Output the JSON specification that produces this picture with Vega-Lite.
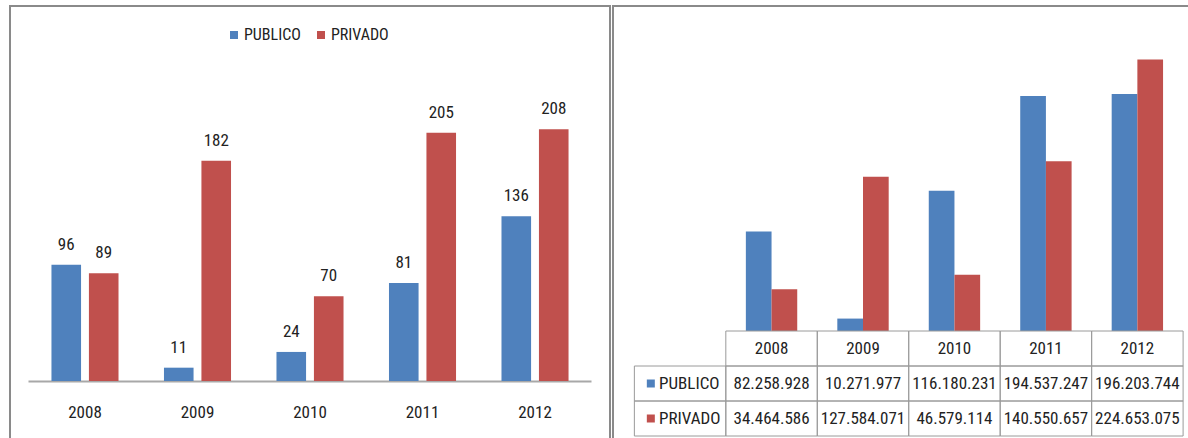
{
  "$schema": "https://vega.github.io/schema/vega-lite/v6.json",
  "padding": {"left": 9, "top": 5, "right": 0, "bottom": 0},
  "spacing": 1,
  "background": "white",
  "resolve": {"scale": {"x": "independent", "xOffset": "independent", "y": "independent", "color": "independent"}},
  "config": {
    "view": {"stroke": "#8a8a8a", "strokeWidth": 2},
    "font": "Liberation Sans Narrow, Arial Narrow, Roboto Condensed, sans-serif",
    "locale": {"number": {"decimal": ",", "thousands": ".", "grouping": [3], "currency": ["R$", ""]}}
  },
  "datasets": {
    "counts": [
      {"year": "2008", "series": "PUBLICO", "n": 96},
      {"year": "2008", "series": "PRIVADO", "n": 89},
      {"year": "2009", "series": "PUBLICO", "n": 11},
      {"year": "2009", "series": "PRIVADO", "n": 182},
      {"year": "2010", "series": "PUBLICO", "n": 24},
      {"year": "2010", "series": "PRIVADO", "n": 70},
      {"year": "2011", "series": "PUBLICO", "n": 81},
      {"year": "2011", "series": "PRIVADO", "n": 205},
      {"year": "2012", "series": "PUBLICO", "n": 136},
      {"year": "2012", "series": "PRIVADO", "n": 208}
    ],
    "values": [
      {"year": "2008", "series": "PUBLICO", "value": 82258928},
      {"year": "2008", "series": "PRIVADO", "value": 34464586},
      {"year": "2009", "series": "PUBLICO", "value": 10271977},
      {"year": "2009", "series": "PRIVADO", "value": 127584071},
      {"year": "2010", "series": "PUBLICO", "value": 116180231},
      {"year": "2010", "series": "PRIVADO", "value": 46579114},
      {"year": "2011", "series": "PUBLICO", "value": 194537247},
      {"year": "2011", "series": "PRIVADO", "value": 140550657},
      {"year": "2012", "series": "PUBLICO", "value": 196203744},
      {"year": "2012", "series": "PRIVADO", "value": 224653075}
    ]
  },
  "hconcat": [
    {
      "width": 600,
      "height": 433,
      "data": {"name": "counts"},
      "encoding": {
        "x": {
          "field": "year", "type": "nominal",
          "scale": {"paddingInner": 0.404, "paddingOuter": 0.3685},
          "axis": {
            "title": null, "orient": "bottom", "offset": -58, "labelAngle": 0,
            "ticks": false, "labelPadding": 31, "labelBaseline": "middle",
            "labelFontSize": 17, "labelColor": "#222",
            "domainColor": "#a8a8a8", "domainWidth": 2, "domainDash": [0, 18, 563, 100]
          }
        },
        "xOffset": {"field": "series", "type": "nominal", "scale": {"domain": ["PUBLICO", "PRIVADO"], "paddingInner": 0.21, "paddingOuter": 0}},
        "y": {"field": "n", "type": "quantitative", "scale": {"domain": [-47.9, 309.7], "nice": false, "zero": false}, "axis": null}
      },
      "layer": [
        {
          "mark": {"type": "bar"},
          "encoding": {
            "y2": {"datum": 0},
            "color": {
              "field": "series", "type": "nominal",
              "scale": {"domain": ["PUBLICO", "PRIVADO"], "range": ["#4F81BD", "#C0504D"]},
              "legend": {
                "title": null, "orient": "none", "legendX": 216, "legendY": 21,
                "direction": "horizontal", "symbolType": "square", "symbolSize": 64,
                "symbolStrokeWidth": 0, "labelFontSize": 16, "labelColor": "#222",
                "labelOffset": 2, "columnPadding": 12
              }
            }
          }
        },
        {
          "mark": {"type": "text", "dy": -15, "baseline": "alphabetic", "fontSize": 17, "color": "#222"},
          "encoding": {"text": {"field": "n", "type": "quantitative"}}
        }
      ]
    },
    {
      "width": 578,
      "height": 433,
      "data": {"name": "values"},
      "resolve": {"scale": {"y": "independent"}},
      "layer": [
        {
          "mark": {"type": "bar"},
          "encoding": {
            "x": {
              "field": "year", "type": "nominal",
              "scale": {"domain": ["label", "2008", "2009", "2010", "2011", "2012"], "paddingInner": 0, "paddingOuter": 0.16, "align": 0.73},
              "axis": null
            },
            "xOffset": {"field": "series", "type": "nominal", "scale": {"domain": ["PUBLICO", "PRIVADO"], "paddingInner": 0, "paddingOuter": 0.78}},
            "y": {"field": "value", "type": "quantitative", "scale": {"domain": [-89400000, 269000000], "nice": false, "zero": false}, "axis": null},
            "y2": {"datum": 0},
            "color": {
              "field": "series", "type": "nominal",
              "scale": {"domain": ["PUBLICO", "PRIVADO"], "range": ["#4F81BD", "#C0504D"]},
              "legend": null
            }
          }
        },
        {
          "layer": [
            {
              "transform": [{"aggregate": [{"op": "count", "as": "k"}], "groupby": ["year"]}],
              "mark": {"type": "rect", "filled": false, "color": "#9a9a9a", "strokeWidth": 1},
              "encoding": {
                "x": {"field": "year", "type": "nominal", "axis": null},
                "y": {"datum": "header", "type": "nominal", "scale": {"domain": ["header", "PUBLICO", "PRIVADO"], "paddingInner": 0, "paddingOuter": 0, "range": [325, 430]}, "axis": null}
              }
            },
            {
              "transform": [{"aggregate": [{"op": "count", "as": "k"}], "groupby": ["year"]}],
              "mark": {"type": "text", "fontSize": 17, "color": "#222"},
              "encoding": {
                "x": {"field": "year", "type": "nominal", "axis": null},
                "y": {"datum": "header", "type": "nominal", "axis": null},
                "text": {"field": "year", "type": "nominal"}
              }
            },
            {
              "mark": {"type": "rect", "filled": false, "color": "#9a9a9a", "strokeWidth": 1},
              "encoding": {
                "x": {"field": "year", "type": "nominal", "axis": null},
                "y": {"field": "series", "type": "nominal", "axis": null}
              }
            },
            {
              "mark": {"type": "text", "fontSize": 17, "color": "#222"},
              "encoding": {
                "x": {"field": "year", "type": "nominal", "axis": null},
                "y": {"field": "series", "type": "nominal", "axis": null},
                "text": {"field": "value", "type": "quantitative", "format": ",d"}
              }
            },
            {
              "transform": [{"aggregate": [{"op": "count", "as": "k"}], "groupby": ["series"]}],
              "mark": {"type": "rect", "filled": false, "color": "#9a9a9a", "strokeWidth": 1},
              "encoding": {
                "x": {"datum": "label", "type": "nominal", "axis": null},
                "y": {"field": "series", "type": "nominal", "axis": null}
              }
            },
            {
              "transform": [{"aggregate": [{"op": "count", "as": "k"}], "groupby": ["series"]}],
              "mark": {"type": "point", "shape": "square", "filled": true, "size": 64, "opacity": 1},
              "encoding": {
                "x": {"datum": "label", "type": "nominal", "bandPosition": 0.18, "axis": null},
                "y": {"field": "series", "type": "nominal", "axis": null},
                "color": {"field": "series", "type": "nominal", "scale": {"domain": ["PUBLICO", "PRIVADO"], "range": ["#4F81BD", "#C0504D"]}, "legend": null}
              }
            },
            {
              "transform": [{"aggregate": [{"op": "count", "as": "k"}], "groupby": ["series"]}],
              "mark": {"type": "text", "fontSize": 17, "color": "#222", "align": "left"},
              "encoding": {
                "x": {"datum": "label", "type": "nominal", "bandPosition": 0.27, "axis": null},
                "y": {"field": "series", "type": "nominal", "axis": null},
                "text": {"field": "series", "type": "nominal"}
              }
            }
          ]
        }
      ]
    }
  ]
}
